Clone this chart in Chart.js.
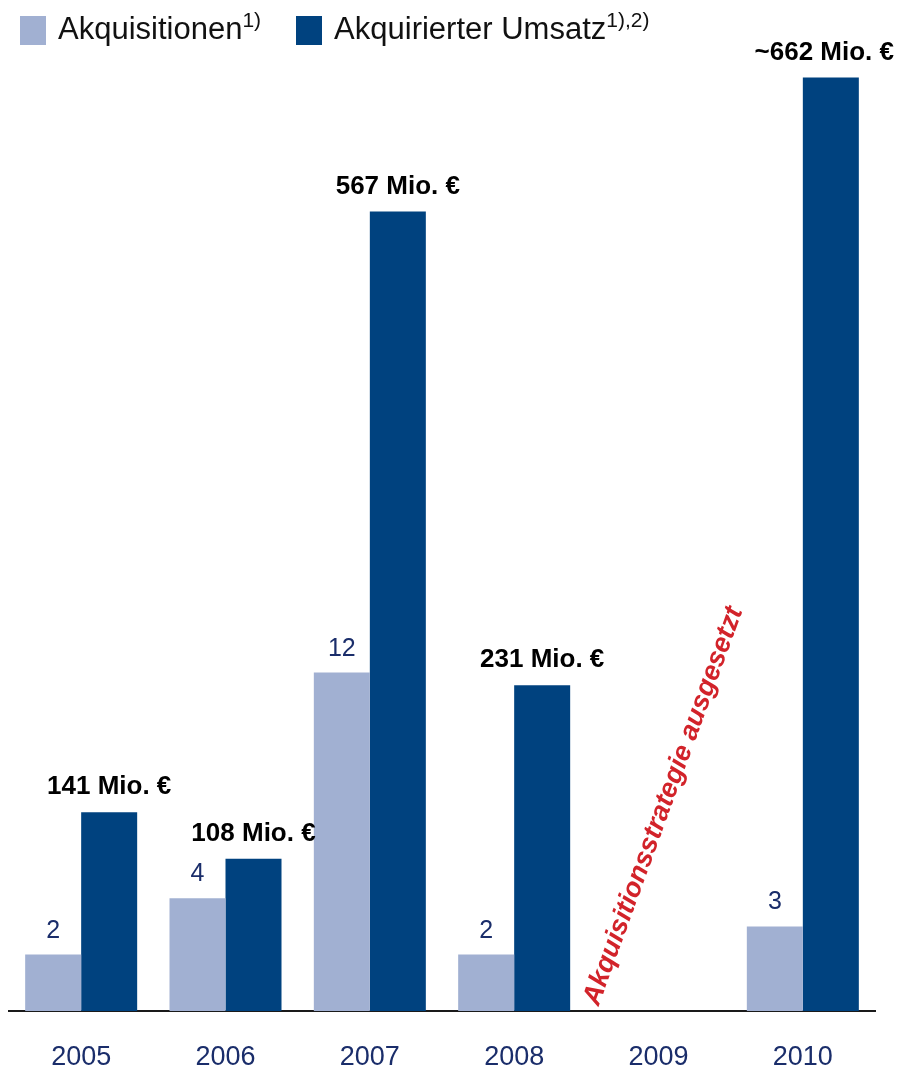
<!DOCTYPE html>
<html lang="de">
<head>
<meta charset="utf-8">
<title>Akquisitionen und akquirierter Umsatz 2005–2010</title>
<script src="https://cdn.jsdelivr.net/npm/chart.js@4/dist/chart.umd.min.js"></script>
<style>
  html, body { margin: 0; padding: 0; background: #fff; }
  #wrap { position: relative; width: 899px; height: 1070px; overflow: hidden;
          font-family: 'Liberation Sans', Arial, sans-serif; }
  #chart { position: absolute; left: 0; top: 0; }
  #legend { position: absolute; left: 20px; top: 16px; display: flex; align-items: flex-start; }
  .item { display: flex; align-items: flex-start; margin-right: 35px; }
  .swatch { width: 26px; height: 29px; margin-right: 12px; }
  .name { font-size: 31px; line-height: 31px; margin-top: -3px; color: #111; white-space: nowrap; }
  .name sup { font-size: 21px; line-height: 0; position: relative; top: -12px; vertical-align: baseline; }
</style>
</head>
<body>
<div id="wrap">
  <canvas id="chart" width="899" height="1070"></canvas>
  <div id="legend"></div>
</div>
<script>
// Jahre und Werte
const years = ['2005', '2006', '2007', '2008', '2009', '2010'];
const acquisitions = [2, 4, 12, 2, null, 3];            // Anzahl Akquisitionen
const acquiredRevenue = [141, 108, 567, 231, null, 662]; // Mio. €
const revenueApprox = [false, false, false, false, false, true];
const seriesNames = ['Akquisitionen', 'Akquirierter Umsatz'];
const seriesNotes = ['1)', '1),2)'];
const pauseYear = '2009';
const pauseNote = 'Akquisitionsstrategie ausgesetzt';

const FONT = "'Liberation Sans', Arial, sans-serif";
const LIGHT = '#a1b0d2';
const DARK = '#00427f';
const NAVY = '#1a2d6a';
const RED = '#d2232a';
const seriesColors = [LIGHT, DARK];

// Legende mit Fußnotenverweisen
const legendEl = document.getElementById('legend');
seriesNames.forEach((name, i) => {
  const item = document.createElement('div');
  item.className = 'item';
  const sw = document.createElement('div');
  sw.className = 'swatch';
  sw.style.background = seriesColors[i];
  const txt = document.createElement('div');
  txt.className = 'name';
  txt.textContent = name;
  const sup = document.createElement('sup');
  sup.textContent = seriesNotes[i];
  txt.appendChild(sup);
  item.appendChild(sw);
  item.appendChild(txt);
  legendEl.appendChild(item);
});

// Wertbeschriftungen und Hinweis für das Jahr ohne Akquisitionen
const barLabels = {
  id: 'barLabels',
  afterDatasetsDraw(chart) {
    const ctx = chart.ctx;
    ctx.save();
    ctx.textAlign = 'center';
    ctx.textBaseline = 'alphabetic';

    ctx.font = '25px ' + FONT;
    ctx.fillStyle = NAVY;
    chart.getDatasetMeta(0).data.forEach((bar, i) => {
      const v = acquisitions[i];
      if (v == null) return;
      ctx.fillText(String(v), bar.x, bar.y - 17);
    });

    ctx.font = 'bold 26px ' + FONT;
    ctx.fillStyle = '#000';
    chart.getDatasetMeta(1).data.forEach((bar, i) => {
      const v = acquiredRevenue[i];
      if (v == null) return;
      const label = (revenueApprox[i] ? '~' : '') + v + ' Mio. €';
      const w = ctx.measureText(label).width;
      const x = Math.min(bar.x, chart.width - 5 - w / 2);
      ctx.fillText(label, x, bar.y - 18);
    });

    const px = chart.scales.x.getPixelForValue(years.indexOf(pauseYear));
    ctx.translate(px + 5, chart.chartArea.bottom - 205);
    ctx.rotate(-70 * Math.PI / 180);
    ctx.font = 'italic bold 27px ' + FONT;
    ctx.fillStyle = RED;
    ctx.textBaseline = 'middle';
    ctx.fillText(pauseNote, 0, 0);
    ctx.restore();
  }
};

new Chart(document.getElementById('chart'), {
  type: 'bar',
  data: {
    labels: years,
    datasets: [
      { label: seriesNames[0], data: acquisitions, backgroundColor: LIGHT, borderWidth: 0, yAxisID: 'yCount' },
      { label: seriesNames[1], data: acquiredRevenue, backgroundColor: DARK, borderWidth: 0, yAxisID: 'yRevenue' }
    ]
  },
  options: {
    responsive: false,
    animation: false,
    devicePixelRatio: 1,
    layout: { padding: { left: 9, right: 24, top: 24, bottom: 0 } },
    datasets: { bar: { categoryPercentage: 0.776, barPercentage: 1 } },
    plugins: { legend: { display: false }, tooltip: { enabled: false } },
    scales: {
      x: {
        grid: { display: false, drawTicks: false },
        border: { display: true, color: '#1a1a1a', width: 2 },
        ticks: { color: NAVY, font: { size: 27, family: FONT }, padding: 30, autoSkip: false, maxRotation: 0 },
        afterFit(scale) { scale.height = 59; }
      },
      yRevenue: { display: false, min: 0, max: 700 },
      yCount: { display: false, min: 0, max: 35 }
    }
  },
  plugins: [barLabels]
});
</script>
</body>
</html>
